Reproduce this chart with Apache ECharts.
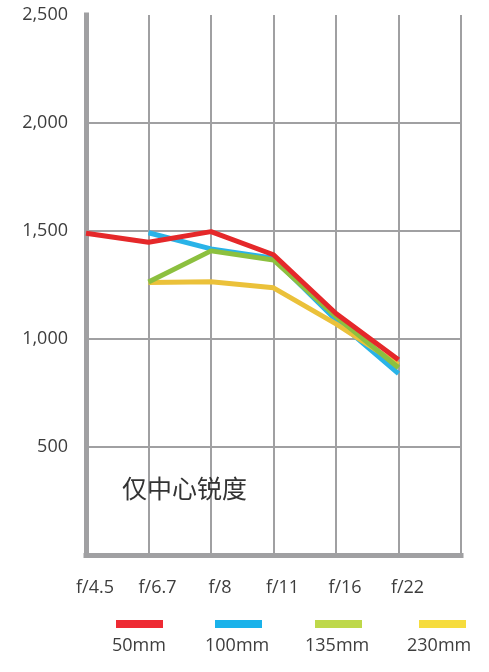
<!DOCTYPE html>
<html>
<head>
<meta charset="utf-8">
<script src="https://cdn.jsdelivr.net/npm/echarts@6/dist/echarts.min.js"></script>
<style>
  html, body { margin: 0; padding: 0; background: #fff; }
  #chart { width: 489px; height: 672px; }
</style>
</head>
<body>
<div id="chart"></div>
<script>
// 光圈档位（最后一个空位只用来画最右边的竖线）
const apertures = ['f/4.5', 'f/6.7', 'f/8', 'f/11', 'f/16', 'f/22', ''];
const seriesNames = ['50mm', '100mm', '135mm', '230mm'];

// 各焦距的中心锐度读数
const sharp50 = [1490, 1448, 1497, 1390, 1118, 904];
const sharp100 = [null, 1492, 1417, 1374, 1088, 840];
const sharp135 = [null, 1264, 1408, 1366, 1104, 867];
const sharp230 = [null, 1262, 1265, 1237, 1070, 882];

const yTicks = [0, 500, 1000, 1500, 2000, 2500];

const lineColors = ['#e5282a', '#29b3e8', '#8cc03f', '#ebc13a'];
const legendColors = ['#ee2a33', '#1ab2ea', '#bed84a', '#f6dc3d'];
const legendLeft = [116, 215, 315, 419];
const legendTextLeft = [107, 200, 300, 402];

const axisGray = '#a0a0a2';
const font = '"Open Sans", "Noto Sans", sans-serif';

const chart = echarts.init(document.getElementById('chart'));

const values = [sharp50, sharp100, sharp135, sharp230];
const zOrder = [4, 1, 3, 2];

const legends = [];
seriesNames.forEach((name, i) => {
  // 色块
  legends.push({
    left: legendLeft[i],
    top: 620,
    padding: 0,
    itemWidth: 47,
    itemHeight: 8,
    icon: 'rect',
    formatter: () => ' ',
    textStyle: { fontSize: 1 },
    data: [{ name: name, itemStyle: { color: legendColors[i] } }]
  });
  // 文字
  legends.push({
    left: legendTextLeft[i],
    top: 637,
    padding: 0,
    itemWidth: 0,
    itemHeight: 0,
    icon: 'rect',
    textStyle: { fontSize: 18, color: '#3d3d3d', fontFamily: font },
    data: [name]
  });
});

chart.setOption({
  animation: false,
  backgroundColor: '#fff',
  grid: { left: 86, right: 28, top: 15, bottom: 117 },
  title: {
    text: '仅中心锐度',
    left: 122,
    top: 476,
    padding: 0,
    textStyle: {
      fontSize: 25,
      fontWeight: 'normal',
      color: '#333',
      fontFamily: '"Noto Sans CJK SC", sans-serif'
    }
  },
  legend: legends,
  xAxis: {
    type: 'category',
    data: apertures,
    boundaryGap: false,
    axisLine: { lineStyle: { color: axisGray, width: 5, cap: 'square' } },
    axisTick: { show: false },
    axisLabel: {
      margin: 24,
      fontSize: 18,
      color: '#3d3d3d',
      fontFamily: font,
      padding: [0, 0, 0, 18]
    },
    splitLine: { show: true, lineStyle: { color: axisGray, width: 2 } }
  },
  yAxis: {
    type: 'value',
    min: 0,
    max: 2500,
    interval: 500,
    axisLine: { show: true, lineStyle: { color: axisGray, width: 5, cap: 'square' } },
    axisTick: { show: false },
    axisLabel: {
      margin: 18,
      fontSize: 18,
      color: '#3d3d3d',
      fontFamily: font,
      formatter: v => (v === 0 ? '' : v.toLocaleString('en-US'))
    },
    splitLine: {
      lineStyle: {
        width: 2,
        color: yTicks.map(t => (t === 2500 ? 'transparent' : axisGray))
      }
    }
  },
  series: seriesNames.map((name, i) => ({
    name: name,
    type: 'line',
    data: values[i],
    z: zOrder[i],
    symbol: 'none',
    color: lineColors[i],
    lineStyle: { width: 5, color: lineColors[i] }
  }))
});
</script>
</body>
</html>
